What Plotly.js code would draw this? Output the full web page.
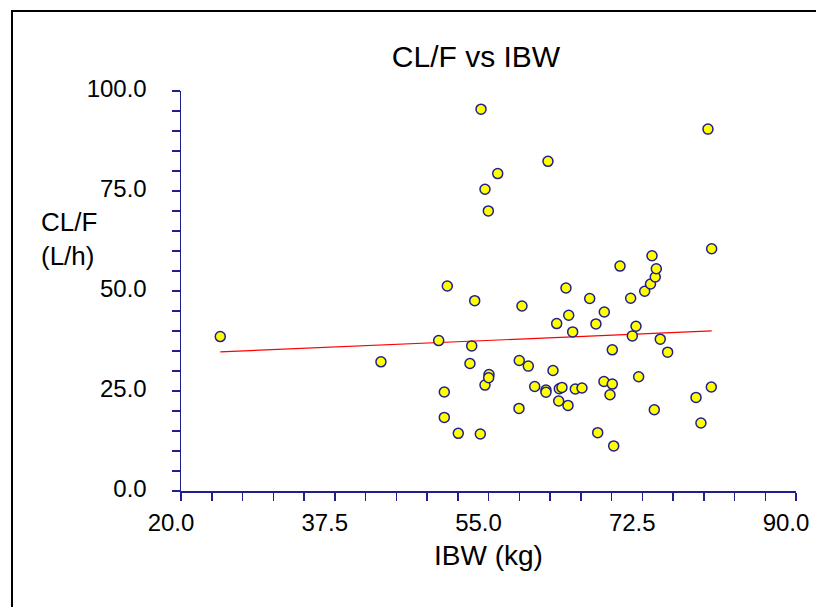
<!DOCTYPE html>
<html>
<head>
<meta charset="utf-8">
<script src="https://cdn.plot.ly/plotly-3.0.1.min.js"></script>
<style>
  html, body { margin: 0; padding: 0; background: #ffffff; overflow: hidden; }
  #chart { position: absolute; left: 0; top: 0; width: 816px; height: 607px; }
</style>
</head>
<body>
<div id="chart"></div>
<script>
// IBW (kg) per subject
const ibw = [24.47, 42.76, 49.33, 49.97, 49.97, 50.31, 51.56, 52.89, 53.09, 53.43,
             54.07, 54.15, 54.60, 54.60, 54.98, 55.06, 55.02, 56.05, 58.47, 58.50,
             58.81, 59.53, 60.26, 61.54, 61.54, 61.77, 62.34, 62.76, 62.99, 63.06,
             63.36, 63.82, 64.05, 64.13, 64.58, 64.88, 65.64, 66.52, 67.23, 67.43,
             68.18, 68.14, 68.83, 69.09, 69.09, 69.25, 69.97, 71.18, 71.37, 71.79,
             72.09, 72.78, 73.44, 73.61, 73.98, 74.10, 73.87, 74.55, 75.39, 78.62,
             79.18, 79.98, 80.40, 80.36];
// CL/F (L/h) per subject
const clf = [38.60, 32.29, 37.61, 24.74, 18.40, 51.25, 14.41, 31.87, 36.28, 47.58,
             14.26, 95.46, 75.44, 26.48, 70.02, 29.13, 28.30, 79.35, 20.65, 32.62,
             46.26, 31.22, 26.13, 25.24, 24.69, 82.42, 30.12, 41.85, 22.49, 25.56,
             25.89, 50.75, 21.40, 43.94, 39.78, 25.49, 25.74, 48.13, 41.77, 14.59,
             44.76, 27.38, 24.06, 35.29, 26.73, 11.27, 56.23, 48.18, 38.78, 41.20,
             28.55, 49.93, 51.75, 58.80, 53.49, 55.56, 20.32, 37.96, 34.71, 23.39,
             17.01, 90.47, 60.55, 25.99];
// Regression line end points
const fitX = [24.47, 80.40];
const fitY = [34.79, 40.02];

const xTickVals = [20, 37.5, 55, 72.5, 90];
const yTickVals = [0, 25, 50, 75, 100];

const navy = '#1f1f8f';
const fontFam = '"Liberation Sans", Arial, sans-serif';

const traces = [
  {
    x: fitX, y: fitY, type: 'scatter', mode: 'lines',
    line: { color: '#ff0000', width: 1.2 }, hoverinfo: 'skip', showlegend: false
  },
  {
    x: ibw, y: clf, type: 'scatter', mode: 'markers',
    marker: { symbol: 'circle', size: 10, color: '#ffff00', line: { color: navy, width: 1.5 } },
    showlegend: false
  }
];

// plot area: 615 px wide, 400 px tall, left 181, top 91
const pxX = function (p) { return (p - 181) / 615; };
const pxY = function (p) { return (491 - p) / 400; };

const layout = {
  width: 816, height: 607,
  margin: { l: 181, r: 20, t: 91, b: 116, pad: 0 },
  paper_bgcolor: '#ffffff',
  plot_bgcolor: '#ffffff',
  font: { family: fontFam, color: '#000' },
  showlegend: false,
  title: {
    text: 'CL/F vs IBW',
    font: { size: 30, family: fontFam, color: '#000' },
    x: 476 / 816, xref: 'container', xanchor: 'center',
    y: 1 - 56 / 607, yref: 'container', yanchor: 'middle'
  },
  xaxis: {
    range: [20, 90], tickmode: 'array', tickvals: xTickVals,
    tickformat: '.1f',
    ticks: 'outside', ticklen: 8, tickwidth: 1.5, tickcolor: navy,
    minor: { tickmode: 'linear', tick0: 20, dtick: 3.5, ticks: 'outside', ticklen: 8, tickwidth: 1.5, tickcolor: navy, showgrid: false },
    showline: true, linecolor: navy, linewidth: 1.5,
    showgrid: false, zeroline: false,
    tickfont: { size: 24, family: fontFam, color: '#000' },
    ticklabelshift: -10, ticklabelstandoff: 2,
    title: { text: 'IBW (kg)', font: { size: 28, family: fontFam, color: '#000' }, standoff: 10 },
    automargin: false, fixedrange: true
  },
  yaxis: {
    range: [0, 100], tickmode: 'array', tickvals: yTickVals,
    tickformat: '.1f',
    ticks: 'outside', ticklen: 8, tickwidth: 1.5, tickcolor: navy,
    minor: { tickmode: 'linear', tick0: 0, dtick: 5, ticks: 'outside', ticklen: 8, tickwidth: 1.5, tickcolor: navy, showgrid: false },
    showline: true, linecolor: navy, linewidth: 1.5,
    showgrid: false, zeroline: false,
    tickfont: { size: 24, family: fontFam, color: '#000' },
    ticklabelshift: -2, ticklabelstandoff: 20,
    automargin: false, fixedrange: true
  },
  shapes: [
    { type: 'line', xref: 'paper', yref: 'paper', x0: pxX(11), x1: pxX(820), y0: pxY(11), y1: pxY(11),
      line: { color: '#000', width: 2 } },
    { type: 'line', xref: 'paper', yref: 'paper', x0: pxX(12), x1: pxX(12), y0: pxY(10), y1: pxY(612),
      line: { color: '#000', width: 2 } }
  ],
  annotations: [
    { text: 'CL/F', xref: 'paper', yref: 'paper', x: pxX(39), y: pxY(222),
      xanchor: 'left', yanchor: 'middle', showarrow: false,
      font: { size: 26, family: fontFam, color: '#000' } },
    { text: '(L/h)', xref: 'paper', yref: 'paper', x: pxX(39), y: pxY(256),
      xanchor: 'left', yanchor: 'middle', showarrow: false,
      font: { size: 26, family: fontFam, color: '#000' } }
  ]
};

Plotly.newPlot('chart', traces, layout, { displayModeBar: false, staticPlot: true });
</script>
</body>
</html>
